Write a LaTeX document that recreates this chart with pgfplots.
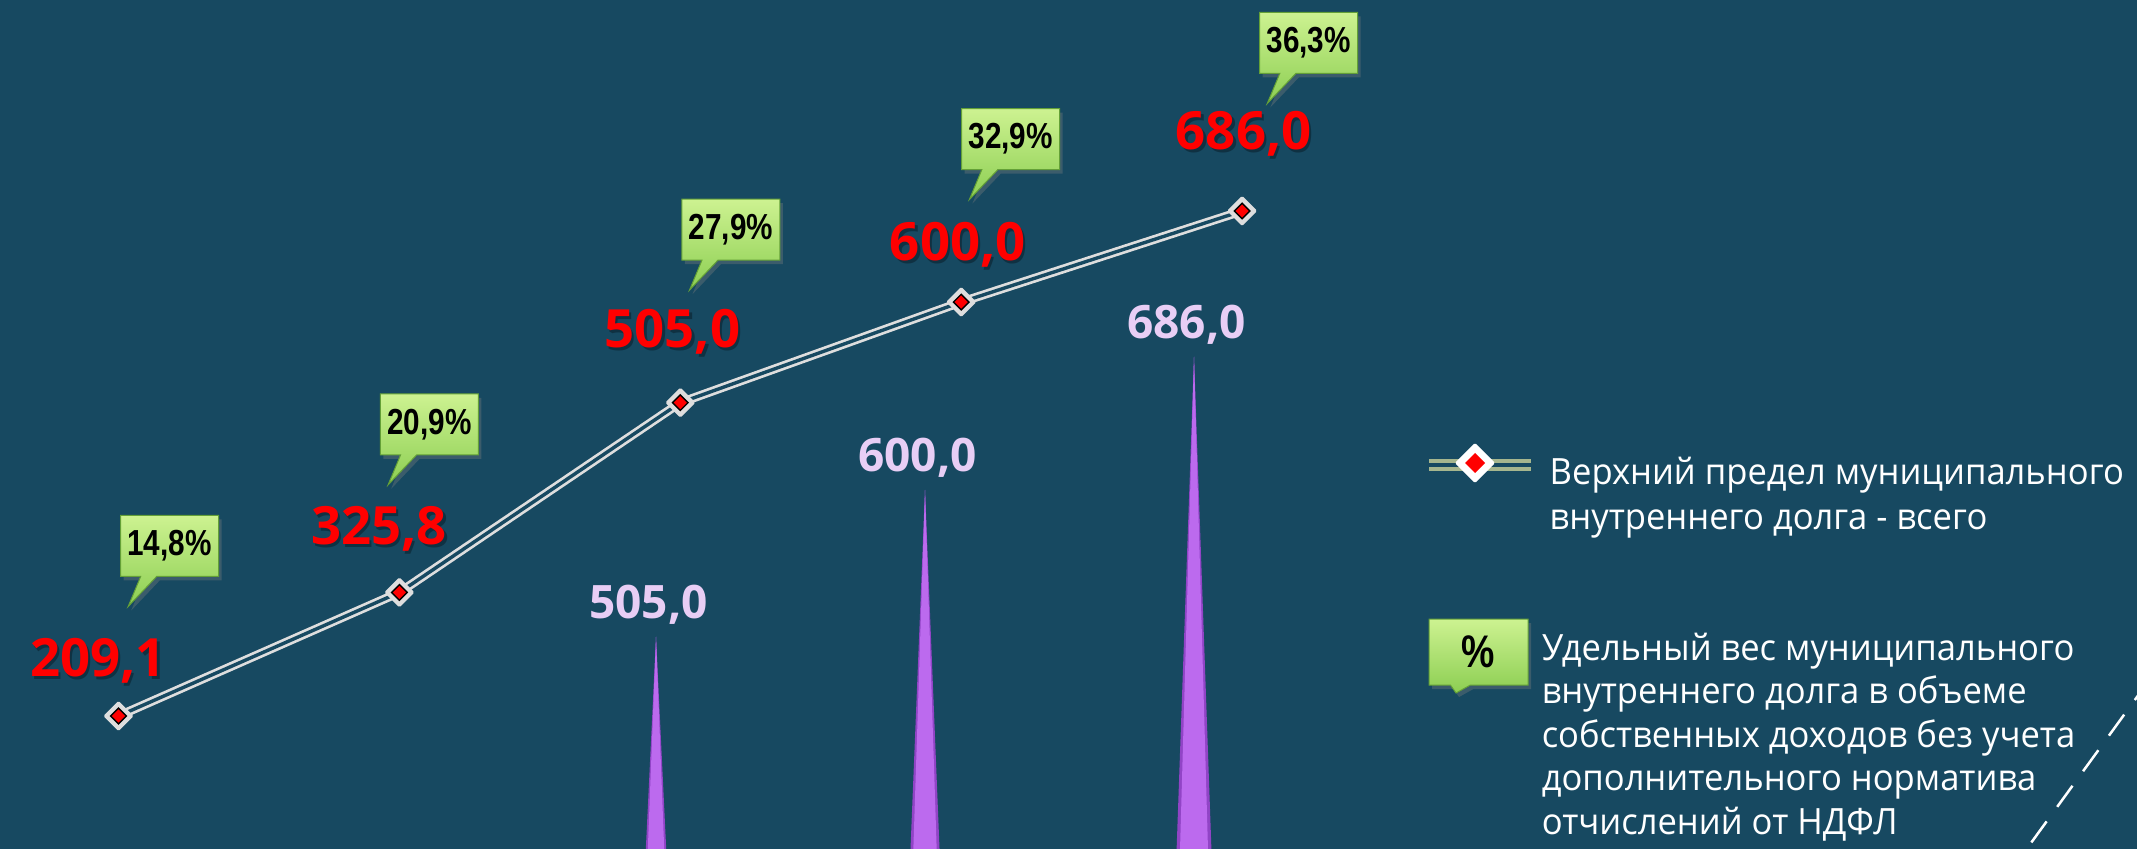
\documentclass[border=0pt]{standalone}
\usepackage{pgfplots}
\pgfplotsset{compat=1.18}
\usepackage{pgfplotstable}
\usepackage{fontspec}
\setmainfont{Open Sans}
\newfontfamily\legfont[FakeStretch=0.955]{Open Sans}
\newfontfamily\narrowfont[FakeStretch=0.82]{Liberation Sans}
\usetikzlibrary{shapes.callouts,shadows}
\definecolor{bgc}{RGB}{23,73,97}
\definecolor{linegray}{RGB}{222,222,222}
\definecolor{legline}{RGB}{166,182,142}
\definecolor{conedark}{RGB}{145,68,198}
\definecolor{conemain}{RGB}{188,106,238}
\definecolor{lav}{RGB}{232,206,245}
\definecolor{gtop}{RGB}{205,242,145}
\definecolor{gbot}{RGB}{140,206,82}
\definecolor{gedge}{RGB}{100,160,55}
\definecolor{shadowc}{RGB}{10,30,42}

\pgfplotstableread{
x y dx dy cdx cdy p
0 209.1 -2.05 3.9 0.15 20.1 14.8
1 325.8 -2.05 4.8 -1.95 19.9 20.9
2 505.0 -0.8 5.5 0.1 20.4 27.9
3 600.0 -0.35 4.2 0.0 19.4 32.9
4 686.0 0.15 6.1 1.7 19.9 36.3
}\linedata

\pgfplotstableread{
k v
0 505.0
1 600.0
2 686.0
}\conedata

\begin{document}
\begin{tikzpicture}
\useasboundingbox (0,0) rectangle (213.7mm,84.9mm);
\fill[bgc] (0,0) rectangle (213.7mm,84.9mm);

% cones
\begin{axis}[at={(0,0)}, anchor=south west, width=213.7mm, height=84.9mm,
  scale only axis, hide axis, clip=true,
  xmin=-2.4387, xmax=5.5056, ymin=367.8, ymax=916.6,
  /pgf/number format/.cd, fixed, fixed zerofill, precision=1, use comma, assume math mode=true]
\addplot[draw=none, fill=conedark] coordinates {(-0.1394,0) (0,505.0) (0.1394,0)} -- cycle;
\addplot[draw=none, fill=conedark] coordinates {(0.8606,0) (1,600.0) (1.1394,0)} -- cycle;
\addplot[draw=none, fill=conedark] coordinates {(1.8606,0) (2,686.0) (2.1394,0)} -- cycle;
\addplot[draw=none, fill=conemain] coordinates {(-0.112,0) (0,505.0) (0.112,0)} -- cycle;
\addplot[draw=none, fill=conemain] coordinates {(0.888,0) (1,600.0) (1.112,0)} -- cycle;
\addplot[draw=none, fill=conemain] coordinates {(1.888,0) (2,686.0) (2.112,0)} -- cycle;
\addplot[draw=none, mark=none, nodes near coords, point meta=y,
  every node near coord/.append style={anchor=base, xshift=-0.75mm, yshift=1.8mm,
  text=lav, font=\fontsize{13.1}{15}\selectfont\bfseries}]
  table[x=k, y=v]{\conedata};
\end{axis}

% line
\begin{axis}[at={(0,0)}, anchor=south west, width=213.7mm, height=84.9mm,
  scale only axis, hide axis, clip=false,
  xmin=-0.4219, xmax=7.1858, ymin=83.5, ymax=885.26,
  /pgf/number format/.cd, fixed, fixed zerofill, precision=1, use comma, assume math mode=true]
\addplot[draw=linegray, line width=0.27mm, double=bgc, double distance=0.34mm,
  line join=round, mark=none] table[x=x, y=y]{\linedata};
\addplot[only marks, mark=square*, mark size=0.92mm,
  mark options={rotate=45, fill=linegray, draw=linegray, line width=0.3mm, line join=round}]
  table[x=x, y=y]{\linedata};
\addplot[only marks, mark=square*, mark size=0.55mm,
  mark options={rotate=45, fill=red, draw=none}]
  table[x=x, y=y]{\linedata};
% value labels: soft shadow, then text
\addplot[draw=none, mark=none, nodes near coords, point meta=y,
  visualization depends on={\thisrow{dx}\as\ldx},
  visualization depends on={\thisrow{dy}\as\ldy},
  every node near coord/.append style={anchor=base, xshift=\ldx mm+0.25mm, yshift=\ldy mm-0.3mm,
  text=shadowc, text opacity=0.55, font=\fontsize{15}{18}\selectfont\bfseries}]
  table[x=x, y=y]{\linedata};
\addplot[draw=none, mark=none, nodes near coords, point meta=y,
  visualization depends on={\thisrow{dx}\as\ldx},
  visualization depends on={\thisrow{dy}\as\ldy},
  every node near coord/.append style={anchor=base, xshift=\ldx mm, yshift=\ldy mm,
  text=red, font=\fontsize{15}{18}\selectfont\bfseries}]
  table[x=x, y=y]{\linedata};
% percentage callouts
\addplot[draw=none, mark=none,
  nodes near coords={\pgfmathprintnumber{\pgfplotspointmeta}\%},
  point meta=\thisrow{p},
  visualization depends on={\thisrow{cdx}\as\cdx},
  visualization depends on={\thisrow{cdy}\as\cdy},
  every node near coord/.append style={shape=rectangle callout, anchor=north west,
  xshift=\cdx mm, yshift=\cdy mm, minimum width=9.8mm, minimum height=6.1mm,
  inner sep=0pt, top color=gtop, bottom color=gbot, draw=gedge, line width=0.1mm,
  callout relative pointer={(-2.05mm,-3.0mm)}, callout pointer width=1.6mm,
  drop shadow={opacity=0.35, shadow xshift=0.3mm, shadow yshift=-0.4mm},
  text=black, font=\narrowfont\bfseries\fontsize{10.3}{12}\selectfont}]
  table[x=x, y=y]{\linedata};
\end{axis}

% legend and decoration (image pixel coordinates)
\begin{scope}[x=0.1mm, y=-0.1mm, shift={(0,84.9mm)}]
\draw[legline, line width=0.32mm] (1429,461) -- (1531,461);
\draw[legline, line width=0.32mm] (1429,469) -- (1531,469);
\filldraw[fill=white, draw=white, line width=0.3mm, line join=round]
  (1475,445) -- (1493,463) -- (1475,481) -- (1457,463) -- cycle;
\fill[red] (1475,453) -- (1485,463) -- (1475,473) -- (1465,463) -- cycle;
\begin{scope}[every node/.style={anchor=base west, inner sep=0pt, text=white,
  font=\legfont\fontsize{10.3}{12.8}\selectfont}]
\node at (1549,485) {Верхний предел муниципального};
\node at (1549,530) {внутреннего долга - всего};
\node at (1541,660) {Удельный вес муниципального};
\node at (1541,703.5) {внутреннего долга в объеме};
\node at (1541,747) {собственных доходов без учета};
\node at (1541,790.5) {дополнительного норматива};
\node at (1541,834) {отчислений от НДФЛ};
\end{scope}
\node[rectangle callout, minimum width=9.9mm, minimum height=6.6mm, inner sep=0pt,
  top color=gtop, bottom color=gbot, draw=gedge, line width=0.1mm,
  callout absolute pointer={(1456,693)}, callout pointer width=2mm,
  drop shadow={opacity=0.35, shadow xshift=0.3mm, shadow yshift=-0.4mm},
  font=\narrowfont\bfseries\fontsize{13}{15}\selectfont, text=black]
  at (1478.5,652) {\%};
\draw[white, line width=0.25mm, dash pattern=on 2.6mm off 1.8mm]
  (2150,679) -- (2020,858);
\end{scope}
\end{tikzpicture}
\end{document}
